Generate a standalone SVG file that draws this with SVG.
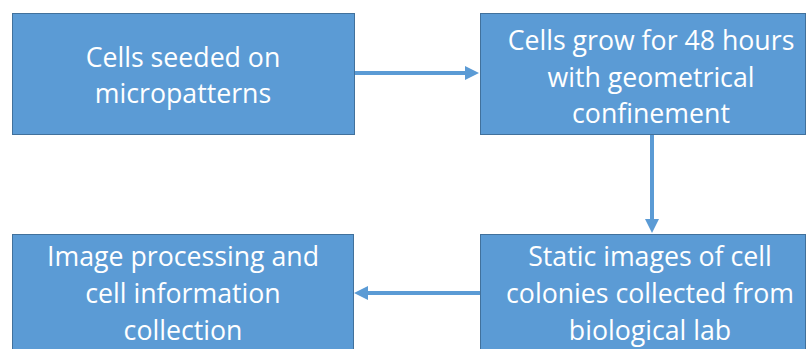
<svg xmlns="http://www.w3.org/2000/svg" width="811" height="349" viewBox="0 0 811 349">
  <style>
    .box { fill: #5b9bd5; stroke: #41719c; stroke-width: 1; }
    .lbl { fill: #ffffff; font-family: "Open Sans", "Liberation Sans", sans-serif; font-size: 26.7px; text-anchor: middle; }
    .conn { stroke: #5b9bd5; stroke-width: 4; fill: none; }
  </style>
  <defs>
    <marker id="arrow" markerUnits="userSpaceOnUse" markerWidth="14" markerHeight="14" refX="4" refY="7" orient="auto">
      <path d="M0,0 L14,7 L0,14 z" fill="#5b9bd5"/>
    </marker>
  </defs>
  <rect width="811" height="349" fill="#ffffff"/>
  <g id="n1">
    <rect class="box" x="12.5" y="13.5" width="342" height="121"/>
    <text class="lbl" x="183" y="67">Cells seeded on</text>
    <text class="lbl" x="183" y="103">micropatterns</text>
  </g>
  <g id="n2">
    <rect class="box" x="480.5" y="13.5" width="325" height="121"/>
    <text class="lbl" x="651" y="50">Cells grow for 48 hours</text>
    <text class="lbl" x="651" y="87">with geometrical</text>
    <text class="lbl" x="651" y="123">confinement</text>
  </g>
  <g id="n3">
    <rect class="box" x="480.5" y="234.5" width="325" height="130"/>
    <text class="lbl" x="650" y="266">Static images of cell</text>
    <text class="lbl" x="650" y="303">colonies collected from</text>
    <text class="lbl" x="650" y="340">biological lab</text>
  </g>
  <g id="n4">
    <rect class="box" x="12.5" y="234.5" width="341" height="130"/>
    <text class="lbl" x="183" y="266">Image processing and</text>
    <text class="lbl" x="183" y="303">cell information</text>
    <text class="lbl" x="183" y="340">collection</text>
  </g>
  <g id="connectors">
    <path class="conn" d="M355,73 L469,73" marker-end="url(#arrow)"/>
    <path class="conn" d="M652,135 L652,223" marker-end="url(#arrow)"/>
    <path class="conn" d="M480,293 L364,293" marker-end="url(#arrow)"/>
  </g>
</svg>
